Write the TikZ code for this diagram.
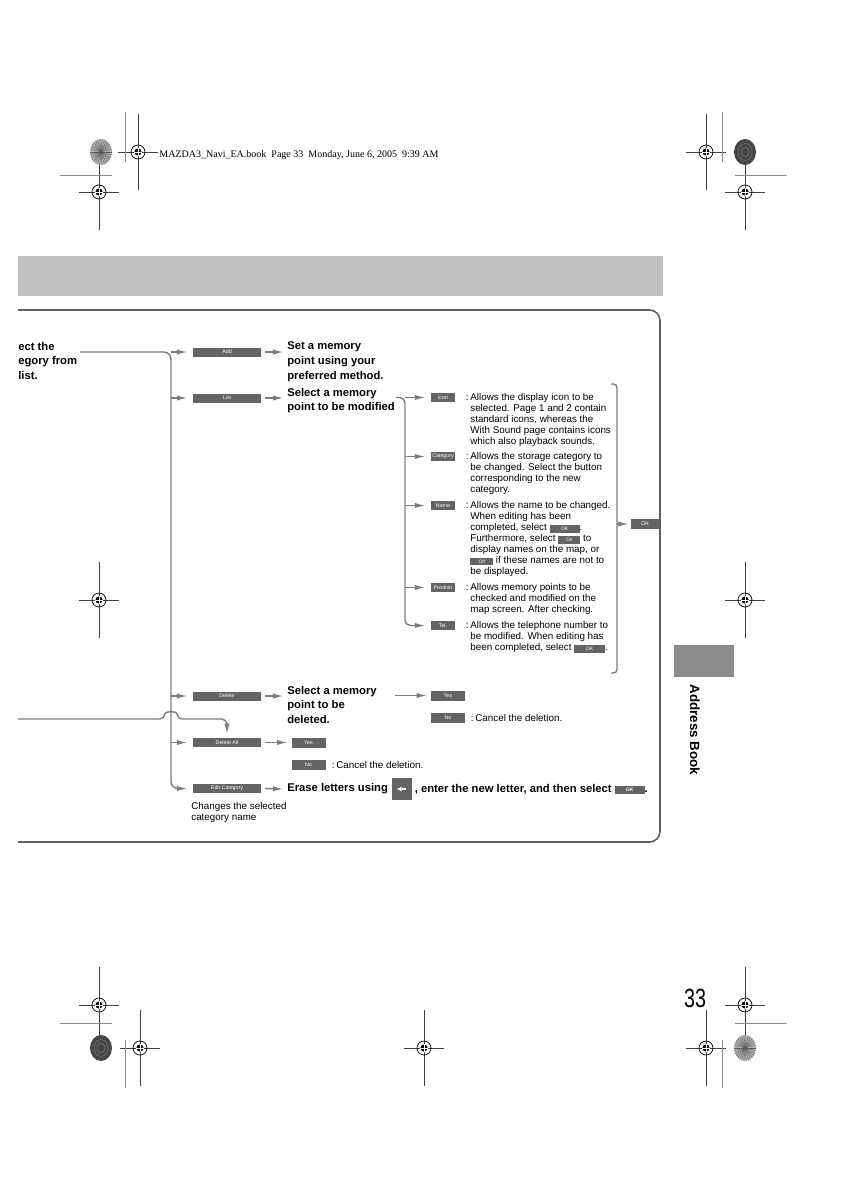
\documentclass[tikz,border=0pt]{standalone}
\usepackage{fontspec}
\setmainfont{Liberation Sans}
\newfontfamily\headfont{Liberation Serif}
\usetikzlibrary{arrows.meta,positioning}

\definecolor{keygray}{RGB}{100,100,100}
\definecolor{linegray}{RGB}{125,125,125}
\definecolor{bargray}{RGB}{192,192,192}
\definecolor{tabgray}{RGB}{140,140,140}
\definecolor{framegray}{RGB}{95,95,95}

% small gray key inside running text
\newcommand{\keybtn}[2]{\raisebox{0.3pt}{\fboxsep=0pt\colorbox{keygray}{\makebox[#1]{\rule[-1.2pt]{0pt}{4.5pt}\color{white}\fontsize{2.8}{3}\selectfont #2}}}}

% crop mark: circle, black dot and cross hair
\newcommand{\regmark}[2]{%
  \draw [black!75, very thin] (#1-20,#2) -- (#1+20,#2) (#1,#2-38) -- (#1,#2+38);
  \draw [black, thin] (#1,#2) circle (7);
  \fill [black] (#1,#2) circle (3.6);
  \draw [white, very thin] (#1-3.6,#2) -- (#1+3.6,#2) (#1,#2-3.6) -- (#1,#2+3.6);}

\begin{document}
\begin{tikzpicture}[x=0.02cm, y=-0.02cm,
  conn/.style={draw=linegray, line width=0.8pt},
  >={Latex[length=6pt,width=3pt]},
  menubox/.style={fill=keygray, text=white, inner sep=0pt, minimum width=1.36cm, minimum height=0.18cm, font=\fontsize{3}{3}\selectfont},
  subbox/.style={menubox, minimum width=0.48cm},
  choicebox/.style={menubox, minimum width=0.68cm, minimum height=0.2cm},
  okbox/.style={menubox, minimum width=0.56cm, minimum height=0.2cm},
  boldtext/.style={inner sep=0pt, align=left, font=\fontsize{6.4}{8.5}\selectfont\bfseries},
  smalltext/.style={inner sep=0pt, align=left, font=\fontsize{5.6}{6.25}\selectfont}]

\useasboundingbox (0,0) rectangle (849,1200);

% printer marks
\regmark{138}{152}
\regmark{99}{192}
\regmark{706}{152}
\regmark{745}{192}
\regmark{99}{600}
\regmark{745}{600}
\regmark{99}{1005}
\regmark{140}{1048}
\regmark{424}{1048}
\regmark{706}{1048}
\regmark{745}{1005}
\draw [black!45, thin] (125,112) -- (125,162) (722,112) -- (722,162);
\draw [black!45, thin] (60,175) -- (112,175) (735,175) -- (787,175);
\draw [black!45, thin] (125,1040) -- (125,1088) (722,1040) -- (722,1088);
\draw [black!45, thin] (60,1023) -- (112,1023) (735,1023) -- (787,1023);

% colour discs
\fill [black!30] (101,152) ellipse (11 and 13);
\foreach \a in {0,12,...,348}
  \draw [black!65, very thin] (101,152) -- ++(\a:11 and 13);
\fill [black!30] (745,1048) ellipse (11 and 13);
\foreach \a in {0,12,...,348}
  \draw [black!65, very thin] (745,1048) -- ++(\a:11 and 13);
\fill [black!72] (745,152) ellipse (11 and 13);
\draw [black!50, very thin] (745,152) ellipse (7 and 8.5) (745,152) ellipse (4 and 5);
\fill [black!72] (101,1048) ellipse (11 and 13);
\draw [black!50, very thin] (101,1048) ellipse (7 and 8.5) (101,1048) ellipse (4 and 5);

\node [anchor=west, inner sep=0pt, font=\headfont\fontsize{5.7}{6}\selectfont] (head) at (159,155)
  {MAZDA3\_Navi\_EA.book\ \ Page 33\ \ Monday, June 6, 2005\ \ 9:39 AM};

% title bar and frame
\fill [bargray] (18,256) rectangle (663,296);
\draw [framegray, line width=0.9pt, rounded corners=6] (18,310) -- (660,310) -- (660,842) -- (18,842);

% main menu keys
\node [boldtext, anchor=north west] (select) at (18,341.5) {ect the\\egory from\\list.};
\node [menubox] (add) at (227,352) {Add};
\node [menubox] (list) at (227,398) {List};
\node [menubox] (delete) at (227,696) {Delete};
\node [menubox] (deleteall) at (227,742.5) {Delete All};
\node [menubox] (editcat) at (227,788.5) {Edit Category};
\coordinate (trunk) at (171,352);

\draw [conn, ->, rounded corners=4] (80,352) -- (trunk) |- ([xshift=-3pt]editcat.west);
\draw [conn, ->] (trunk) -- ([xshift=-3pt]add.west);
\draw [conn, ->] (trunk |- list) -- ([xshift=-3pt]list.west);
\draw [conn, ->] (trunk |- delete) -- ([xshift=-3pt]delete.west);
\draw [conn, ->] (trunk |- deleteall) -- ([xshift=-3pt]deleteall.west);

% line from the other page hopping over the trunk
\draw [conn, ->, rounded corners=3] (18,719) -- (165,719) .. controls (165,711) and (177,711) .. (177,719)
  -- (deleteall.north |- 0,719) -- ([yshift=2pt]deleteall.north);

% Add
\node [boldtext, anchor=north west] (addtext) at (287,341.5) {Set a memory\\point using your\\preferred method.};
\draw [conn, ->] ([xshift=2pt]add.east) -- ([xshift=-2pt]addtext.west |- add);

% List
\node [boldtext, anchor=north west] (listtext) at (287,387.5) {Select a memory\\point to be modified};
\draw [conn, ->] ([xshift=2pt]list.east) -- ([xshift=-2pt]listtext.west |- list);

\node [subbox] (icon) at (443,397.5) {Icon};
\node [subbox] (category) at (443,456.5) {Category};
\node [subbox] (name) at (443,505.5) {Name};
\node [subbox] (position) at (443,587.5) {Position};
\node [subbox] (tel) at (443,625.5) {Tel.};
\coordinate (subtrunk) at (405,397.5);

\draw [conn, ->, rounded corners=3] (396,397.5) -- (subtrunk) |- ([xshift=-3pt]tel.west);
\draw [conn, ->] (subtrunk) -- ([xshift=-3pt]icon.west);
\draw [conn, ->] (subtrunk |- category) -- ([xshift=-3pt]category.west);
\draw [conn, ->] (subtrunk |- name) -- ([xshift=-3pt]name.west);
\draw [conn, ->] (subtrunk |- position) -- ([xshift=-3pt]position.west);

\node [smalltext, anchor=north west] (icontext) at (470,393.5)
  {\llap{:\,}Allows the display icon to be\\selected. Page 1 and 2 contain\\standard icons, whereas the\\With Sound page contains icons\\which also playback sounds.};
\node [smalltext, anchor=north west] (cattext) at (470,452.5)
  {\llap{:\,}Allows the storage category to\\be changed. Select the button\\corresponding to the new\\category.};
\node [smalltext, anchor=north west] (nametext) at (470,501.5)
  {\llap{:\,}Allows the name to be changed.\\When editing has been\\completed, select \keybtn{17pt}{OK}.\\Furthermore, select \keybtn{12.5pt}{On} to\\display names on the map, or\\\keybtn{13pt}{Off} if these names are not to\\be displayed.};
\node [smalltext, anchor=north west] (postext) at (470,583.5)
  {\llap{:\,}Allows memory points to be\\checked and modified on the\\map screen. After checking.};
\node [smalltext, anchor=north west] (teltext) at (470,621.5)
  {\llap{:\,}Allows the telephone number to\\be modified. When editing has\\been completed, select \keybtn{17.5pt}{OK}.};

% bracket to OK
\draw [conn, rounded corners=2] (611,384) -- (617,384) -- (617,673) -- (611,673);
\node [okbox] (ok) at (645,524) {OK};
\draw [conn, ->] (617,524) -- ([xshift=-1pt]ok.west);

% Delete
\node [boldtext, anchor=north west] (deltext) at (287,685.5) {Select a memory\\point to be\\deleted.};
\draw [conn, ->] ([xshift=2pt]delete.east) -- ([xshift=-2pt]deltext.west |- delete);
\node [choicebox] (yesA) at (448,695.5) {Yes};
\node [choicebox] (noA) at (448,718) {No};
\draw [conn, ->] (395,695.5) -- ([xshift=-2pt]yesA.west);
\node [smalltext, anchor=west] (noAtext) at (475,718) {\llap{:\,}Cancel the deletion.};

% Delete All
\node [choicebox] (yesB) at (308.5,742.5) {Yes};
\node [choicebox] (noB) at (308.5,764.5) {No};
\draw [conn, ->] ([xshift=2pt]deleteall.east) -- ([xshift=-2pt]yesB.west);
\node [smalltext, anchor=west] (noBtext) at (336,764.5) {\llap{:\,}Cancel the deletion.};

% Edit Category
\node [boldtext, anchor=west] (erase) at (287,789) {Erase letters using};
\node [fill=keygray, minimum width=0.4cm, minimum height=0.44cm, inner sep=0pt, right=0.06cm of erase] (back) {};
\fill [white] ([xshift=-2.6pt]back.center) -- ++(2.6pt,1.3pt) -- ++(0,-2.6pt) -- cycle;
\draw [white, line width=0.6pt] (back.center) -- ++(2.2pt,0);
\node [boldtext, anchor=west, right=0.05cm of back] (erase2) {, enter the new letter, and then select \keybtn{17pt}{OK}.};
\draw [conn, ->] ([xshift=2pt]editcat.east) -- ([xshift=-2pt]erase.west);
\node [smalltext, anchor=north west] (edittext) at (191,802.5) {Changes the selected\\category name};

% side tab and page number
\fill [tabgray] (674,645) rectangle (734,677);
\node [rotate=-90, inner sep=0pt, font=\fontsize{7.6}{8}\selectfont\bfseries] (tab) at (695,730) {Address Book};
\node [inner sep=0pt, font=\fontsize{15}{15}\selectfont] (page) at (695,998) {\scalebox{0.75}[1]{33}};

\end{tikzpicture}
\end{document}
